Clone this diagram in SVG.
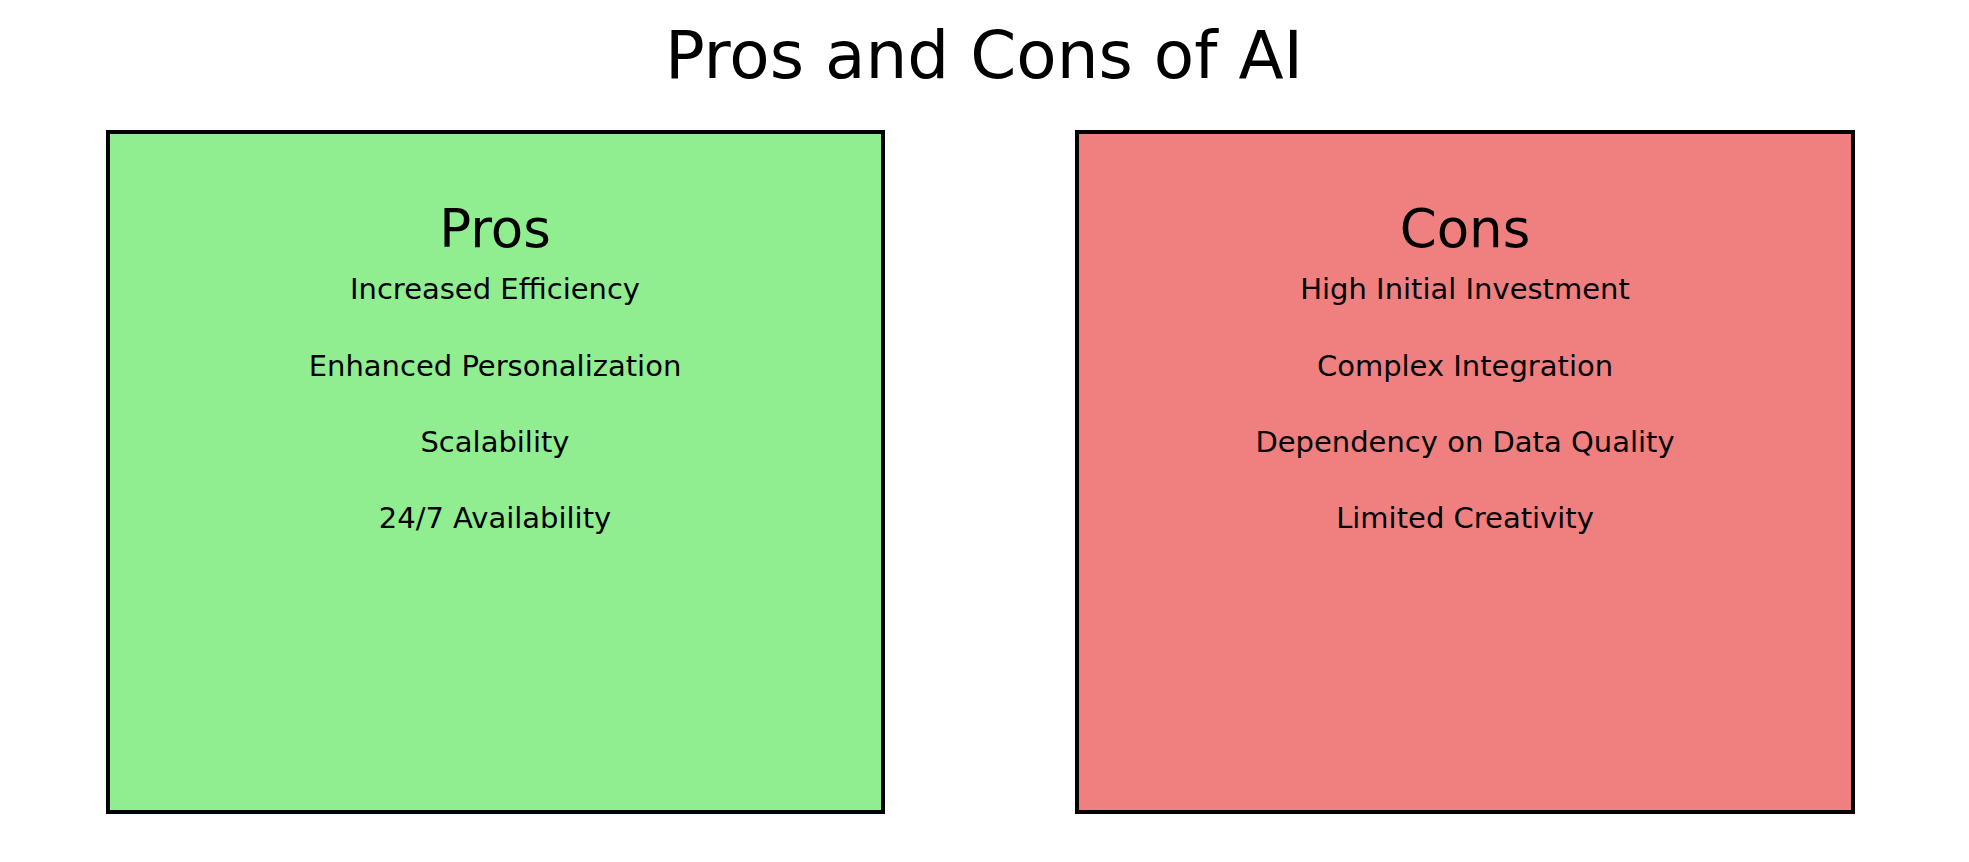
<svg xmlns="http://www.w3.org/2000/svg" width="1969" height="862" viewBox="0 0 1969 862">
<style>
text{font-family:"DejaVu Sans",sans-serif;text-anchor:middle;fill:#000}
.box{stroke:#000;stroke-width:4}
.h{font-size:53px}
.i{font-size:29px}
</style>
<rect width="1969" height="862" fill="#fff"/>
<text x="984" y="78" style="font-size:66px">Pros and Cons of AI</text>
<g id="pros">
<rect class="box" x="108" y="132" width="775" height="680" fill="#90EE90"/>
<text class="h" x="495" y="247">Pros</text>
<text class="i" x="495" y="299">Increased Efficiency</text>
<text class="i" x="495" y="376">Enhanced Personalization</text>
<text class="i" x="495" y="452">Scalability</text>
<text class="i" x="495" y="528">24/7 Availability</text>
</g>
<g id="cons">
<rect class="box" x="1077" y="132" width="776" height="680" fill="#F08080"/>
<text class="h" x="1465" y="247">Cons</text>
<text class="i" x="1465" y="299">High Initial Investment</text>
<text class="i" x="1465" y="376">Complex Integration</text>
<text class="i" x="1465" y="452">Dependency on Data Quality</text>
<text class="i" x="1465" y="528">Limited Creativity</text>
</g>
<g id="connectors"/>
</svg>
